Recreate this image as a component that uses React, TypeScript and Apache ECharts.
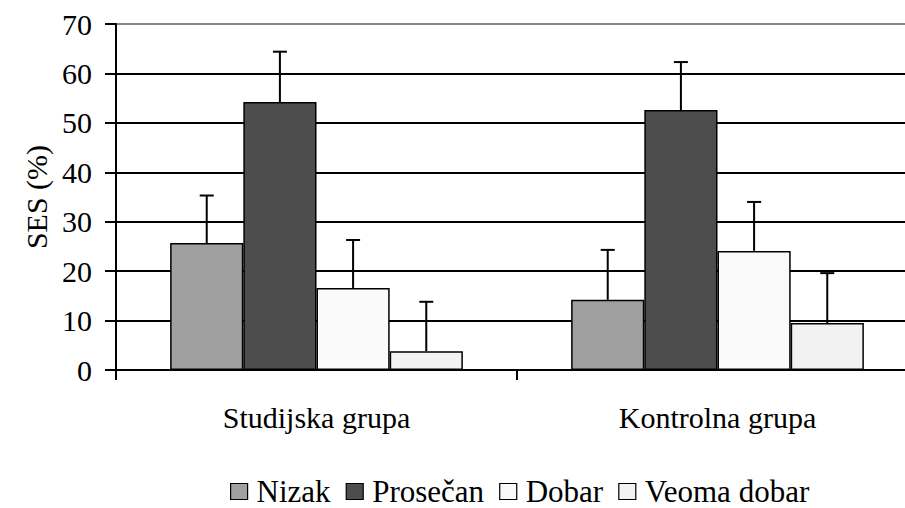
import React, { useEffect, useRef } from "react";
import * as echarts from "echarts";

const categories = ["Studijska grupa", "Kontrolna grupa"];
const seriesNames = ["Nizak", "Prosečan", "Dobar", "Veoma dobar"];
const seriesColors = ["#a0a0a0", "#4d4d4d", "#fafafa", "#f2f2f2"];
const nizak = [25.7, 14.2];
const prosecan = [54.2, 52.6];
const dobar = [16.6, 24.1];
const veomaDobar = [3.8, 9.5];
const nizakErr = [9.6, 10.1];
const prosecanErr = [10.2, 9.7];
const dobarErr = [9.7, 9.9];
const veomaDobarErr = [10.0, 10.1];
const yTicks = [0, 10, 20, 30, 40, 50, 60, 70];

const FONT = "Times New Roman, Liberation Serif, DejaVu Serif, serif";
const GAP = 0.27;

export default function App() {
  const ref = useRef<HTMLDivElement>(null);
  useEffect(() => {
    document.body.style.margin = "0";
    const chart = echarts.init(ref.current!, undefined, { renderer: "svg" });
    const values = [nizak, prosecan, dobar, veomaDobar];
    const errs = [nizakErr, prosecanErr, dobarErr, veomaDobarErr];
    const errData: number[][] = [];
    categories.forEach((_, ci) => {
      values.forEach((v, si) => {
        errData.push([ci, si, v[ci], v[ci] + errs[si][ci]]);
      });
    });
    const bars = seriesNames.map((name, si) => ({
      name,
      type: "bar",
      data: values[si],
      barGap: "0%",
      barCategoryGap: GAP * 100 + "%",
      itemStyle: { color: seriesColors[si], borderColor: "#000", borderWidth: 1.5 },
      z: 3,
    }));
    chart.setOption({
      animation: false,
      grid: { left: 116, top: 24, width: 802, height: 346, outerBoundsMode: "none", containLabel: false },
      legend: {
        data: seriesNames,
        left: 225,
        top: 471,
        itemWidth: 17,
        itemHeight: 16,
        itemGap: 15,
        icon: "rect",
        textStyle: { fontFamily: FONT, fontSize: 31, color: "#000", padding: [0, 0, 0, 4] },
        itemStyle: { borderColor: "#000", borderWidth: 1.2 },
      },
      xAxis: {
        type: "category",
        data: categories,
        axisLine: { lineStyle: { color: "#000", width: 2 } },
        axisTick: { show: true, length: 10, lineStyle: { color: "#000", width: 2 } },
        axisLabel: { fontFamily: FONT, fontSize: 30, color: "#000", margin: 32 },
        splitLine: { show: false },
      },
      yAxis: {
        type: "value",
        min: yTicks[0],
        max: yTicks[yTicks.length - 1],
        interval: 10,
        name: "SES (%)",
        nameLocation: "middle",
        nameGap: 62,
        nameRotate: 90,
        nameTextStyle: { fontFamily: FONT, fontSize: 30, color: "#000" },
        axisLine: { show: true, lineStyle: { color: "#000", width: 2 } },
        axisTick: { show: true, length: 11, lineStyle: { color: "#000", width: 2 } },
        axisLabel: { fontFamily: FONT, fontSize: 30, color: "#000", margin: 24 },
        splitLine: {
          lineStyle: {
            color: ["#000", "#000", "#000", "#000", "#000", "#000", "#000", "#888"],
            width: 2,
          },
        },
      },
      series: [
        ...bars,
        {
          type: "custom",
          name: "err",
          data: errData,
          encode: { x: 0, y: 3 },
          z: 4,
          silent: true,
          renderItem: (params: any, api: any) => {
            const ci = api.value(0);
            const si = api.value(1);
            const bandW = api.size([1, 0])[0];
            const bw = (bandW * (1 - GAP)) / 4;
            const base = api.coord([ci, api.value(2)]);
            const top = api.coord([ci, api.value(3)]);
            const x = base[0] + (si - 1.5) * bw;
            const cap = 7;
            const style = { stroke: "#000", lineWidth: 2 };
            return {
              type: "group",
              children: [
                { type: "line", shape: { x1: x, y1: base[1], x2: x, y2: top[1] }, style },
                { type: "line", shape: { x1: x - cap, y1: top[1], x2: x + cap, y2: top[1] }, style },
              ],
            };
          },
        },
      ],
    });
    return () => chart.dispose();
  }, []);
  return <div ref={ref} style={{ width: 905, height: 508 }} />;
}
